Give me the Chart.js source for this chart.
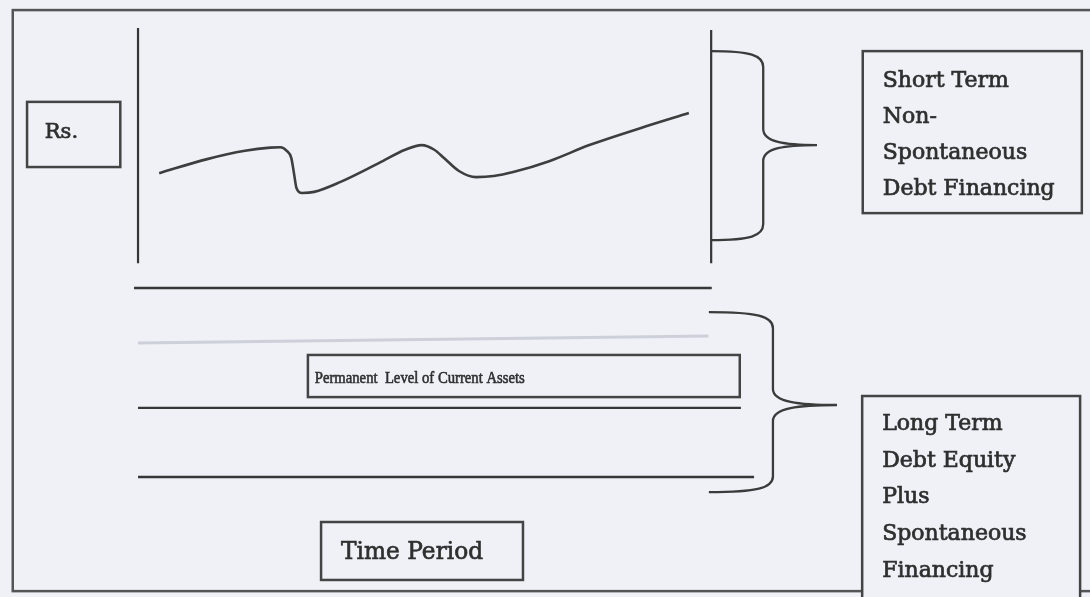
<!DOCTYPE html>
<html>
<head>
<meta charset="utf-8">
<script src="https://cdn.jsdelivr.net/npm/chart.js@4.4.1/dist/chart.umd.min.js"></script>
<style>
  html, body { margin: 0; padding: 0; background: #eff1f7; }
</style>
</head>
<body>
<canvas id="diagram" width="1090" height="597"></canvas>
<script>
// x = time period (0 at the Rs axis, 100 at the end of the period drawn)
// y = Rs (0 at the lowest permanent level)
const fluctTime = [3.7, 12.1, 18.7, 23.1, 24.9, 26.0, 26.8, 27.3, 27.7, 28.7, 30.8, 35.3, 42.1,
                   46.7, 49.6, 51.8, 53.5, 56.1, 59.1, 62.2, 65.6, 72.0, 78.9, 87.8, 96.3];
const fluctRs = [84.4, 88.3, 90.6, 91.5, 91.6, 90.6, 88.6, 84.0, 80.3, 78.9, 79.2, 81.9, 87.2,
                 90.9, 92.2, 90.9, 88.6, 85.0, 83.3, 83.6, 84.7, 87.8, 92.2, 96.9, 101.1];

const rsAxisTime = [0, 0];
const rsAxisRs = [124.7, 59.4];
const periodEndTime = [100.2, 100.2];
const periodEndRs = [124.2, 59.4];

const topLevelTime = [-0.7, 100.3];
const topLevelRs = [52.5, 52.5];
const fadedLevelTime = [0, 99.7];
const fadedLevelRs = [37.2, 39.2];
const permTopTime = [0, 105.4];
const permTopRs = [19.2, 19.2];
const permBaseTime = [0, 107.7];
const permBaseRs = [0, 0];

const rsLabel = ['Rs.'];
const timeLabel = ['Time Period'];
const permanentLabel = ['Permanent  Level of Current Assets'];
const shortTermLabel = ['Short Term', 'Non-', 'Spontaneous', 'Debt Financing'];
const longTermLabel = ['Long Term', 'Debt Equity', 'Plus', 'Spontaneous', 'Financing'];

const INK = '#2f2f2f';
const PAPER = '#eff1f7';

function pts(xs, ys) {
  return xs.map((x, i) => ({ x: x, y: ys[i] }));
}

function lineSet(xs, ys, color, width) {
  return {
    data: pts(xs, ys),
    showLine: true,
    borderColor: color,
    borderWidth: width,
    pointRadius: 0,
    fill: false
  };
}

const curve = lineSet(fluctTime, fluctRs, '#3e3e3e', 2.6);
curve.tension = 0.4;
curve.cubicInterpolationMode = 'monotone';

// boxes, texts and braces are placed in the same data units
const boxes = [
  { t0: -19.4, t1: -3.1, v0: 104.2, v1: 86.1, text: rsLabel, tx: -16.3, base: [94.2], step: 0,
    font: '21px "DejaVu Serif"' },
  { t0: 32.0, t1: 67.3, v0: -12.5, v1: -28.6, text: timeLabel, tx: 35.5, base: [-22.8], step: 0,
    font: '25px "DejaVu Serif"', maxW: 142 },
  { t0: 29.7, t1: 105.2, v0: 33.9, v1: 22.2, text: permanentLabel, tx: 30.9, base: [26.2], step: 0,
    font: '17px "Liberation Serif"', maxW: 210, weight: 0.6 },
  { t0: 126.7, t1: 165.0, v0: 118.3, v1: 73.3, text: shortTermLabel, tx: 130.2, base: [108.3], step: 10,
    font: '22px "DejaVu Serif"' },
  { t0: 126.6, t1: 164.7, v0: 22.5, v1: -36.0, text: longTermLabel, tx: 130.1, base: [13.1], step: 10.2,
    font: '22px "DejaVu Serif"' }
];

const braces = [
  { t0: 100.2, tv: 109.3, tt: 118.7, vTop: 118.3, vBot: 65.8, vTip: 92.2 },
  { t0: 99.8, tv: 111.0, tt: 122.2, vTop: 45.8, vBot: -4.2, vTip: 20.0 }
];

const frame = { t0: -21.9, t1: 168, v0: 129.7, v1: -31.7 };

const diagramExtras = {
  id: 'diagramExtras',
  beforeDraw(chart) {
    const ctx = chart.ctx;
    ctx.save();
    ctx.fillStyle = PAPER;
    ctx.fillRect(0, 0, chart.width, chart.height);
    ctx.restore();
  },
  beforeDatasetsDraw(chart) {
    const ctx = chart.ctx, x = chart.scales.x, y = chart.scales.y;
    ctx.save();
    ctx.strokeStyle = '#555';
    ctx.lineWidth = 2.5;
    const l = x.getPixelForValue(frame.t0), r = x.getPixelForValue(frame.t1);
    const t = y.getPixelForValue(frame.v0), b = y.getPixelForValue(frame.v1);
    ctx.strokeRect(l, t, r - l, b - t);
    ctx.restore();
  },
  afterDatasetsDraw(chart) {
    const ctx = chart.ctx, x = chart.scales.x, y = chart.scales.y;
    ctx.save();

    boxes.forEach(bx => {
      const l = x.getPixelForValue(bx.t0), r = x.getPixelForValue(bx.t1);
      const t = y.getPixelForValue(bx.v0), b = y.getPixelForValue(bx.v1);
      ctx.fillStyle = PAPER;
      ctx.fillRect(l, t, r - l, b - t);
      ctx.strokeStyle = '#444';
      ctx.lineWidth = 2.5;
      ctx.strokeRect(l, t, r - l, b - t);

      ctx.fillStyle = INK;
      ctx.strokeStyle = INK;
      ctx.lineWidth = bx.weight || 0.7;
      ctx.font = bx.font;
      ctx.textBaseline = 'alphabetic';
      ctx.textAlign = 'left';
      bx.text.forEach((s, i) => {
        const px = x.getPixelForValue(bx.tx);
        const py = y.getPixelForValue(bx.base[0] - i * bx.step);
        if (bx.maxW) {
          ctx.fillText(s, px, py, bx.maxW);
          ctx.strokeText(s, px, py, bx.maxW);
        } else {
          ctx.fillText(s, px, py);
          ctx.strokeText(s, px, py);
        }
      });
    });

    ctx.strokeStyle = '#3b3b3b';
    ctx.lineWidth = 2.3;
    braces.forEach(br => {
      const x0 = x.getPixelForValue(br.t0), xv = x.getPixelForValue(br.tv), xt = x.getPixelForValue(br.tt);
      const yT = y.getPixelForValue(br.vTop), yB = y.getPixelForValue(br.vBot), yM = y.getPixelForValue(br.vTip);
      const w = xv - x0;
      ctx.beginPath();
      ctx.moveTo(x0, yT);
      ctx.bezierCurveTo(x0 + w * 0.75, yT, xv, yT + 4, xv, yT + 16);
      ctx.lineTo(xv, yM - 16);
      ctx.bezierCurveTo(xv, yM - 3, xv + (xt - xv) * 0.4, yM, xt, yM);
      ctx.bezierCurveTo(xv + (xt - xv) * 0.4, yM, xv, yM + 3, xv, yM + 16);
      ctx.lineTo(xv, yB - 16);
      ctx.bezierCurveTo(xv, yB - 4, x0 + w * 0.75, yB, x0, yB);
      ctx.stroke();
    });

    ctx.restore();
  }
};

new Chart(document.getElementById('diagram'), {
  type: 'scatter',
  data: {
    datasets: [
      curve,
      lineSet(rsAxisTime, rsAxisRs, '#363636', 2.2),
      lineSet(periodEndTime, periodEndRs, '#363636', 2.2),
      lineSet(topLevelTime, topLevelRs, '#363636', 2.4),
      lineSet(fadedLevelTime, fadedLevelRs, '#cdd0d8', 3),
      lineSet(permTopTime, permTopRs, '#363636', 2.4),
      lineSet(permBaseTime, permBaseRs, '#363636', 2.4)
    ]
  },
  options: {
    responsive: false,
    animation: false,
    devicePixelRatio: 1,
    layout: { padding: 0 },
    plugins: { legend: { display: false }, tooltip: { enabled: false } },
    scales: {
      x: { type: 'linear', min: -24.13, max: 166.43, display: false },
      y: { type: 'linear', min: -33.33, max: 132.5, display: false }
    }
  },
  plugins: [diagramExtras]
});
</script>
</body>
</html>
